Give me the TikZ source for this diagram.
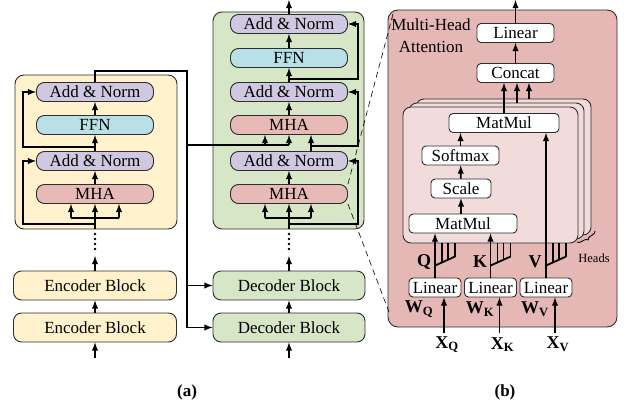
\documentclass[tikz,border=0pt]{standalone}
\usepackage{fontspec}
\setmainfont{Liberation Serif}
\usepackage{tikz}
\usetikzlibrary{calc,shapes,arrows,decorations.pathreplacing}

\definecolor{encfill}{RGB}{255,242,204}
\definecolor{decfill}{RGB}{216,230,200}
\definecolor{normfill}{RGB}{208,200,224}
\definecolor{ffnfill}{RGB}{185,223,231}
\definecolor{mhafill}{RGB}{232,186,183}
\definecolor{attfill}{RGB}{229,183,181}
\definecolor{headfill}{RGB}{242,220,219}
\definecolor{edge}{RGB}{45,45,45}

\tikzset{
  blk/.style={draw=edge, line width=0.9pt, rounded corners=8pt, minimum width=117pt,
    minimum height=19pt, inner sep=0pt, font=\fontsize{17}{19}\selectfont},
  norm/.style={blk, fill=normfill},
  ffn/.style={blk, fill=ffnfill},
  mha/.style={blk, fill=mhafill},
  stackblk/.style={blk, minimum height=29pt},
  op/.style={draw=edge, line width=0.9pt, rounded corners=4pt, fill=white,
    minimum height=19pt, inner sep=0pt, font=\fontsize{17}{19}\selectfont},
  sheet/.style={draw=edge, line width=0.9pt, rounded corners=8pt, fill=headfill,
    minimum width=175pt, minimum height=136pt, inner sep=0pt},
  frame/.style={draw=edge, line width=0.9pt, rounded corners=9pt},
  arr/.style={-latex, line width=1.8pt},
  wire/.style={line width=1.8pt},
  lbl/.style={font=\fontsize{18}{20}\selectfont\bfseries, inner sep=0pt},
  zoomline/.style={line width=0.6pt, dash pattern=on 6pt off 4pt},
}

\begin{document}
\begin{tikzpicture}[x=1pt,y=-1pt]
\useasboundingbox (0,0) rectangle (628,406);

\draw[frame, fill=encfill] (15,75) rectangle (177,229);
\draw[frame, fill=decfill] (213,12) rectangle (364,229);

\node[norm] (encAN2) at (95,92) {Add \& Norm};
\node[ffn] (encFFN) at (95,125) {FFN};
\node[norm] (encAN1) at (95,161) {Add \& Norm};
\node[mha] (encMHA) at (95,194) {MHA};

\node[norm] (decAN3) at (289,24) {Add \& Norm};
\node[ffn] (decFFN) at (289,58) {FFN};
\node[norm] (decAN2) at (289,92) {Add \& Norm};
\node[mha] (decMHA2) at (289,125) {MHA};
\node[norm] (decAN1) at (289,161) {Add \& Norm};
\node[mha] (decMHA1) at (289,194) {MHA};

\node[stackblk, fill=encfill, minimum width=163pt] (encBlk2) at (95,285.5) {Encoder Block};
\node[stackblk, fill=encfill, minimum width=163pt] (encBlk1) at (95,327.5) {Encoder Block};
\node[stackblk, fill=decfill, minimum width=152pt] (decBlk2) at (289,285.5) {Decoder Block};
\node[stackblk, fill=decfill, minimum width=152pt] (decBlk1) at (289,327.5) {Decoder Block};

\coordinate (encSrc) at (95,358);
\coordinate (decSrc) at (289,358);
\coordinate (encTop) at (95,256);
\coordinate (decTop) at (289,256);
\draw[arr] (encSrc) -- (encBlk1);
\draw[arr] (encBlk1) -- (encBlk2);
\draw[arr] (encBlk2) -- (encTop);
\draw[arr] (decSrc) -- (decBlk1);
\draw[arr] (decBlk1) -- (decBlk2);
\draw[arr] (decBlk2) -- (decTop);
\foreach \x in {95,289}
  \foreach \y in {234,239,244,249}
    \fill (\x,\y) circle (1.4pt);

\coordinate (encIn) at (95,229);
\draw[arr] (encIn) -- (encMHA.south);
\draw[wire] ($(encMHA.south)+(-24,14)$) -- ++(48,0);
\foreach \dx in {-24,24}
  \draw[arr] ($(encMHA.south)+(\dx,14)$) -- ++(0,-14);
\draw[arr] ($(encIn)+(0,-5)$) -| ($(encAN1.west)+(-13,0)$) -- (encAN1.west);
\draw[arr] (encMHA) -- (encAN1);
\draw[arr] (encAN1) -- (encFFN);
\draw[arr] (encFFN) -- (encAN2);
\draw[arr] ($(encAN1.north)+(0,-4)$) -| ($(encAN2.west)+(-13,0)$) -- (encAN2.west);

\coordinate (encOut) at (187,71);
\coordinate (kvFork) at ($(decMHA2.south)+(0,10)$);
\draw[wire] (encAN2.north) |- (encOut) -- (encOut |- decBlk1.west);
\draw[arr] (encOut |- decBlk1.west) -- (decBlk1.west);
\draw[arr] (encOut |- decBlk2.west) -- (decBlk2.west);
\draw[wire] (encOut |- kvFork) -- (kvFork);
\draw[arr] (kvFork) -- (decMHA2.south);
\draw[arr] ($(kvFork)+(-24,0)$) -- ($(decMHA2.south)+(-24,0)$);

\coordinate (decIn) at (289,229);
\draw[arr] (decIn) -- (decMHA1.south);
\draw[wire] ($(decMHA1.south)+(-24,14)$) -- ++(46,0);
\foreach \dx in {-24,22}
  \draw[arr] ($(decMHA1.south)+(\dx,14)$) -- ++(0,-14);
\draw[arr] ($(decIn)+(0,-5)$) -| ($(decAN1.east)+(10,0)$) -- (decAN1.east);
\draw[arr] (decMHA1) -- (decAN1);
\draw[arr] ($(decAN1.north)+(22,0)$) -- ($(decMHA2.south)+(22,0)$);
\draw[arr] ($(decAN1.north)+(22,-5)$) -| ($(decAN2.east)+(10,0)$) -- (decAN2.east);
\draw[arr] (decMHA2) -- (decAN2);
\draw[arr] (decAN2) -- (decFFN);
\draw[arr] (decFFN) -- (decAN3);
\draw[arr] ($(decAN2.north)+(0,-3)$) -| ($(decAN3.east)+(10,0)$) -- (decAN3.east);
\coordinate (decOut) at (289,0);
\draw[arr] (decAN3) -- (decOut);

\draw[frame, fill=attfill, rounded corners=10pt] (388,10) rectangle (617,327);
\node[font=\fontsize{17}{22}\selectfont, align=center, inner sep=0pt] (mhaTitle) at (431,36) {Multi-Head\\Attention};

\foreach \i/\dx/\dy in {3/13/-8,2/6/-4,1/0/0}
  \node[sheet] (head\i) at ($(490.5,175)+(\dx,\dy)$) {};

\node[op, minimum width=77pt] (linOut) at (515.5,33) {Linear};
\node[op, minimum width=77pt] (concat) at (515.5,73) {Concat};
\node[op, minimum width=110pt] (mmTop) at (504,123) {MatMul};
\node[op, minimum width=77pt] (softmax) at (460.5,155.5) {Softmax};
\node[op, minimum width=60pt] (scale) at (461,188.5) {Scale};
\node[op, minimum width=108pt] (mmLow) at (463,223.5) {MatMul};
\node[op, minimum width=52pt] (linQ) at (435,287.5) {Linear};
\node[op, minimum width=52pt] (linK) at (490.5,287.5) {Linear};
\node[op, minimum width=52pt] (linV) at (546,287.5) {Linear};

\coordinate (attOut) at (515.5,0);
\draw[arr] (linOut) -- (attOut);
\draw[arr] (concat) -- (linOut);
\draw[arr] (mmTop.north) -- (mmTop.north |- concat.south);
\foreach \i/\dx in {2/13,3/25} {
  \coordinate (cin\i) at ($(mmTop.north)+(\dx,0)$);
  \draw[arr] (cin\i |- head\i.north) -- (cin\i |- concat.south);
}
\draw[arr] (mmLow.north -| scale.south) -- (scale.south);
\draw[arr] (scale) -- (softmax);
\draw[arr] (softmax.north) -- (softmax.north |- mmTop.south);
\draw[arr] (linQ.north) -- (linQ.north |- mmLow.south);
\draw[arr] (linK.north) -- (linK.north |- mmLow.south);
\draw[arr] (linV.north) -- (linV.north |- mmTop.south);
\foreach \n in {linQ,linK,linV} {
  \draw[wire] ($(\n.north)+(0,-12)$) -- ++(20,-9);
  \foreach \dx in {7,13,20}
    \draw[wire] ($(\n.north)+(\dx,-12-0.45*\dx)$) -- ($(\n.north)+(\dx,-35)$);
}

\node[lbl] (qLbl) at (424,262) {Q};
\node[lbl] (kLbl) at (480,262) {K};
\node[lbl] (vLbl) at (535,262) {V};
\node[lbl] (wQ) at (419,309) {W\textsubscript{Q}};
\node[lbl] (wK) at (480,309) {W\textsubscript{K}};
\node[lbl] (wV) at (535,309) {W\textsubscript{V}};
\foreach \n/\t in {linQ/Q,linK/K,linV/V} {
  \node[lbl] (x\t) at ($(\n.south)+(12,47)$) {X\textsubscript{\t}};
  \coordinate (in\t) at ($(\n.south)+(9,36)$);
  \draw[arr] (in\t) -- (in\t |- \n.south);
}

\node[font=\fontsize{12.5}{14}\selectfont, inner sep=0pt] (headsLbl) at (594,258) {Heads};
\draw[line width=0.9pt, decorate, decoration={brace, amplitude=4pt}] (595,231) -- (577,242);

\node[font=\fontsize{17}{19}\selectfont\bfseries] (capA) at (187,392) {(a)};
\node[font=\fontsize{17}{19}\selectfont\bfseries] (capB) at (505,392) {(b)};

\coordinate (zoomTop) at (393,14);
\coordinate (zoomBot) at (389,312);
\draw[zoomline] (decMHA1.north east) -- (zoomTop);
\draw[zoomline] (decMHA1.south east) -- (zoomBot);
\end{tikzpicture}
\end{document}
